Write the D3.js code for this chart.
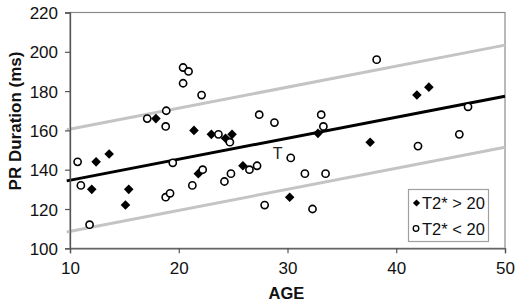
<!DOCTYPE html>
<html>
<head>
<meta charset="utf-8">
<script src="https://cdn.jsdelivr.net/npm/d3@7/dist/d3.min.js"></script>
<style>
  html, body { margin: 0; padding: 0; background: #fff; }
  svg { display: block; font-family: "Liberation Sans", Arial, sans-serif; }
</style>
</head>
<body>
<svg id="chart" width="520" height="301"></svg>
<script>
// ---- data ----
const xTicks = [10, 20, 30, 40, 50];
const yTicks = [100, 120, 140, 160, 180, 200, 220];

const highAge = [12.0, 12.4, 13.6, 15.1, 15.4, 17.9, 21.4, 21.8, 23.0, 24.3, 24.9, 25.9, 30.2, 32.8, 37.6, 41.9, 43.0];
const highPR  = [130, 144, 148, 122, 130, 166, 160, 138, 158, 156, 158, 142, 126, 158.5, 154, 178, 182];

const lowAge = [10.7, 11.0, 11.8, 17.1, 18.8, 18.85, 18.8, 19.2, 19.45, 20.4, 20.4, 20.9, 21.25, 22.1, 22.2, 23.65, 24.2, 24.7, 24.8, 26.5, 27.2, 27.4, 27.9, 28.8, 30.3, 31.6, 32.3, 33.1, 33.3, 33.5, 38.2, 42.0, 45.8, 46.6];
const lowPR  = [144, 132, 112, 166, 162, 170, 126, 128, 143.5, 192, 184, 190, 132, 178, 140, 158, 134, 154, 138, 140, 142, 168, 122, 164, 146, 138, 120, 168, 162, 138, 196, 152, 158, 172];

const fitAge   = [9.7, 50];
const fitPR    = [134.3, 177.4];
const upperPR  = [160.3, 203.4];
const lowerPR  = [108.3, 151.4];

const legendLabels = ["T2* > 20", "T2* < 20"];
const annotation = { age: 29.1, pr: 145.2, text: "T" };

// ---- drawing ----
const svg = d3.select("#chart");
const L = 70, R = 505, T = 12.5, B = 248.3;
const x = d3.scaleLinear().domain([10, 50]).range([L, R]);
const y = d3.scaleLinear().domain([100, 220]).range([B, T]);

// plot frame (top / right)
svg.append("rect")
  .attr("x", L).attr("y", T).attr("width", R - L).attr("height", B - T)
  .attr("fill", "none").attr("stroke", "#8a8a8a").attr("stroke-width", 1.2);

const line = d3.line().x(d => x(d[0])).y(d => y(d[1]));
function drawLine(vals, color) {
  svg.append("path")
    .datum(fitAge.map((a, i) => [a, vals[i]]))
    .attr("d", line)
    .attr("fill", "none")
    .attr("stroke", color)
    .attr("stroke-width", 3);
}
drawLine(upperPR, "#c4c4c4");
drawLine(lowerPR, "#c4c4c4");
drawLine(fitPR, "#000");

// axes
const xAxis = d3.axisBottom(x).tickValues(xTicks).tickSize(5).tickPadding(6).tickFormat(d3.format("d"));
const yAxis = d3.axisLeft(y).tickValues(yTicks).tickSize(5).tickPadding(7).tickFormat(d3.format("d"));

const gx = svg.append("g").attr("transform", `translate(0,${B})`).call(xAxis);
const gy = svg.append("g").attr("transform", `translate(${L},0)`).call(yAxis);
[gx, gy].forEach(g => {
  g.attr("font-size", null).attr("font-family", null);
  g.select(".domain").attr("stroke", "#555").attr("stroke-width", 1.3);
  g.selectAll(".tick line").attr("stroke", "#555").attr("stroke-width", 1.2);
  g.selectAll(".tick text").attr("fill", "#111")
    .style("font-size", "17px").style("font-family", "'Liberation Sans', Arial, sans-serif");
});
gx.selectAll(".tick text").attr("dy", "0.85em");
gy.selectAll(".tick text").attr("dy", "0.36em");

// annotation
svg.append("text")
  .attr("x", x(annotation.age)).attr("y", y(annotation.pr))
  .attr("text-anchor", "middle")
  .style("font-size", "16px")
  .style("font-family", "'Liberation Sans', Arial, sans-serif")
  .attr("fill", "#222")
  .text(annotation.text);

// points
function diamondPath(r) {
  return `M0,${-r}L${r},0L0,${r}L${-r},0Z`;
}
svg.append("g").selectAll("path")
  .data(highAge.map((a, i) => [a, highPR[i]]))
  .join("path")
  .attr("transform", d => `translate(${x(d[0])},${y(d[1])})`)
  .attr("d", diamondPath(4.8))
  .attr("fill", "#000");

svg.append("g").selectAll("circle")
  .data(lowAge.map((a, i) => [a, lowPR[i]]))
  .join("circle")
  .attr("cx", d => x(d[0])).attr("cy", d => y(d[1]))
  .attr("r", 3.6)
  .attr("fill", "#fff")
  .attr("stroke", "#000")
  .attr("stroke-width", 1.6);

// axis titles
svg.append("text")
  .attr("x", (L + R) / 2 - 1).attr("y", 299)
  .attr("text-anchor", "middle")
  .style("font-size", "16.5px").style("font-weight", "bold").attr("fill", "#111")
  .text("AGE");

svg.append("text")
  .attr("transform", `translate(21,${121}) rotate(-90)`)
  .attr("text-anchor", "middle")
  .style("font-size", "17px").style("font-weight", "bold").attr("fill", "#111")
  .text("PR Duration (ms)");

// legend
const lg = svg.append("g");
lg.append("rect")
  .attr("x", 408.5).attr("y", 189.5).attr("width", 80).attr("height", 52)
  .attr("fill", "#fff").attr("stroke", "#a0a0a0").attr("stroke-width", 1.2);
lg.append("path")
  .attr("transform", "translate(416.5,203)")
  .attr("d", diamondPath(3.6)).attr("fill", "#000");
lg.append("circle")
  .attr("cx", 416).attr("cy", 228.5).attr("r", 2.8)
  .attr("fill", "#fff").attr("stroke", "#000").attr("stroke-width", 1.3);
lg.selectAll("text.lg")
  .data(legendLabels)
  .join("text")
  .attr("class", "lg")
  .attr("x", 422).attr("y", (d, i) => 209 + i * 25.5)
  .style("font-size", "16.5px").attr("fill", "#111")
  .text(d => d);
</script>
</body>
</html>
